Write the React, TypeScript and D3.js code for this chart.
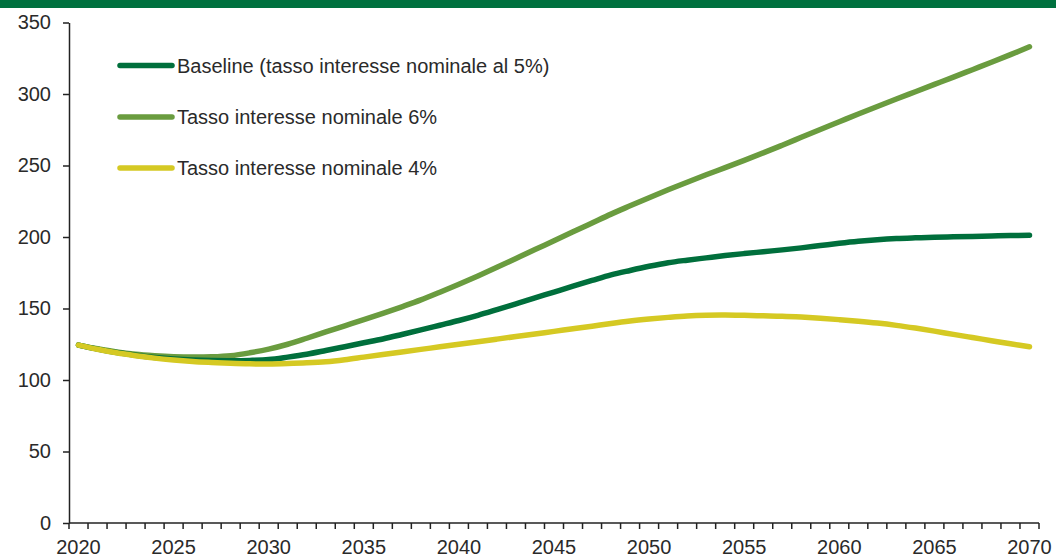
import React, { useEffect, useRef } from "react";
import * as d3 from "d3";

// Years on the category axis
const years: number[] = d3.range(2020, 2071);

// Baseline (5%)
const baseline: number[] = [
    124.4, 121.6, 119.2, 117.3, 115.8, 114.7, 114.0, 113.6, 113.5, 113.7,
    114.3, 116.0, 118.0, 120.6, 123.3, 126.0, 128.7, 131.8, 135.0, 138.3,
    141.6, 145.2, 149.2, 153.3, 157.4, 161.5, 165.6, 169.6, 173.5, 176.6,
    179.5, 182.0, 183.8, 185.4, 187.0, 188.4, 189.7, 191.0, 192.4, 194.0,
    195.6, 197.0, 198.1, 198.9, 199.4, 199.8, 200.1, 200.4, 200.7, 201.0,
    201.2,
];

// Tasso 6%
const rate6: number[] = [
    124.4, 121.8, 119.6, 118.0, 117.0, 116.3, 116.0, 116.2, 117.0, 119.0,
    121.6, 125.0, 129.2, 133.6, 137.9, 142.2, 146.6, 151.2, 156.0, 161.4,
    167.0, 172.8, 178.8, 185.0, 191.2, 197.4, 203.6, 209.8, 216.0, 221.8,
    227.5, 233.0, 238.3, 243.5, 248.5, 253.6, 258.8, 264.2, 269.7, 275.2,
    280.6, 286.0, 291.3, 296.5, 301.6, 306.7, 311.8, 317.0, 322.2, 327.5,
    333.0,
];

// Tasso 4%
const rate4: number[] = [
    124.4, 121.5, 119.0, 117.0, 115.3, 114.0, 113.0, 112.3, 111.7, 111.3,
    111.2, 111.5, 112.0, 112.8, 114.2, 116.0, 117.8, 119.6, 121.4, 123.2,
    125.0, 126.8, 128.6, 130.4, 132.2, 134.0, 135.8, 137.6, 139.5, 141.2,
    142.6, 143.8, 144.8, 145.3, 145.4, 145.2, 144.9, 144.6, 144.0, 143.2,
    142.2, 141.1, 139.8, 138.2, 136.3, 134.2, 131.9, 129.7, 127.5, 125.3,
    123.2,
];

const seriesNames: string[] = [
    "Baseline (tasso interesse nominale al 5%)",
    "Tasso interesse nominale 6%",
    "Tasso interesse nominale 4%",
];
const seriesColors: string[] = ["#006f3c", "#6a9c3f", "#d5c923"];
const yTicks: number[] = [0, 50, 100, 150, 200, 250, 300, 350];
const labelYears: number[] = [2020, 2025, 2030, 2035, 2040, 2045, 2050, 2055, 2060, 2065, 2070];

const width = 1056;
const height = 558;
const FONT = "'Liberation Sans', Arial, sans-serif";

const App: React.FC = () => {
    const svgRef = useRef<SVGSVGElement>(null);

    useEffect(() => {
        if (!svgRef.current) return;
        const svg = d3.select(svgRef.current);
        svg.selectAll("*").remove();

        const left = 69;
        const right = 1039;
        const top = 22.5;
        const bottom = 523;

        const x = d3.scaleBand<number>().domain(years).range([left, right]);
        const cx = (yr: number) => (x(yr) ?? 0) + x.bandwidth() / 2;
        const y = d3.scaleLinear().domain([0, 350]).range([bottom, top]);

        // top band
        svg.append("rect")
            .attr("x", 0).attr("y", 0)
            .attr("width", width).attr("height", 8)
            .attr("fill", "#00713f");

        // y axis
        const yAxis = svg.append("g")
            .attr("transform", `translate(${left},0)`)
            .call(d3.axisLeft(y).tickValues(yTicks).tickSize(6).tickPadding(12).tickSizeOuter(0));
        yAxis.select(".domain").attr("stroke", "#222").attr("stroke-width", 1.5);
        yAxis.selectAll("line").attr("stroke", "#222").attr("stroke-width", 1.5);
        yAxis.selectAll("text")
            .attr("fill", "#2a2a2a")
            .style("font-family", FONT)
            .style("font-size", "20px");

        // x axis: ticks on every category boundary
        const xAxisG = svg.append("g");
        xAxisG.append("line")
            .attr("x1", left).attr("x2", right)
            .attr("y1", bottom).attr("y2", bottom)
            .attr("stroke", "#222").attr("stroke-width", 1.5);
        const bounds = [...years.map(yr => x(yr) ?? 0), right];
        xAxisG.selectAll("line.tick")
            .data(bounds)
            .enter()
            .append("line")
            .attr("class", "tick")
            .attr("x1", d => d).attr("x2", d => d)
            .attr("y1", bottom).attr("y2", bottom + 6)
            .attr("stroke", "#222").attr("stroke-width", 1.5);
        xAxisG.selectAll("text")
            .data(labelYears)
            .enter()
            .append("text")
            .attr("x", d => cx(d))
            .attr("y", 554)
            .attr("text-anchor", "middle")
            .attr("fill", "#2a2a2a")
            .style("font-family", FONT)
            .style("font-size", "20px")
            .text(d => String(d));

        // lines
        const line = d3.line<number>()
            .x((_, i) => cx(years[i]))
            .y(d => y(d))
            .curve(d3.curveCatmullRom);

        const allSeries = [baseline, rate6, rate4];
        // draw 6% first, then baseline, then 4% on top
        [1, 0, 2].forEach(i => {
            svg.append("path")
                .datum(allSeries[i])
                .attr("fill", "none")
                .attr("stroke", seriesColors[i])
                .attr("stroke-width", 5.5)
                .attr("stroke-linecap", "round")
                .attr("stroke-linejoin", "round")
                .attr("d", line);
        });

        // legend
        const legendY = [65.5, 117, 168];
        seriesNames.forEach((name, i) => {
            svg.append("line")
                .attr("x1", 120).attr("x2", 172)
                .attr("y1", legendY[i]).attr("y2", legendY[i])
                .attr("stroke", seriesColors[i])
                .attr("stroke-width", 5.5)
                .attr("stroke-linecap", "round");
            svg.append("text")
                .attr("x", 177)
                .attr("y", legendY[i] + 7)
                .attr("fill", "#2a2a2a")
                .style("font-family", FONT)
                .style("font-size", "20px")
                .text(name);
        });
    }, []);

    return (
        <svg
            ref={svgRef}
            width={width}
            height={height}
            style={{ position: "absolute", left: 0, top: 0, background: "#fff" }}
        ></svg>
    );
};

export default App;
